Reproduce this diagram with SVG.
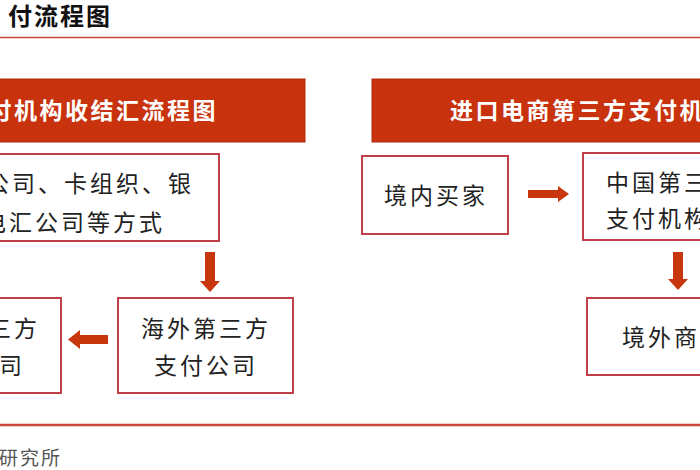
<svg xmlns="http://www.w3.org/2000/svg" width="700" height="470" viewBox="0 0 700 470">
<style>
.hdr{fill:#c8320c;stroke:#b02a10;stroke-width:1}
.hdrt{font-family:"Noto Sans CJK SC","Noto Sans",sans-serif;font-size:23px;font-weight:bold;fill:#fff;letter-spacing:2.5px}
.box{fill:#fff;stroke:#c0404a;stroke-width:2}
.t{font-family:"Noto Sans CJK SC","Noto Sans",sans-serif;font-size:23px;fill:#222;letter-spacing:3px}
.arr{fill:#c8360e}
.rule{stroke:#c9473a;fill:none}
</style>
<rect width="700" height="470" fill="#fff"/>
<text x="8" y="25" font-family="'Noto Sans CJK SC',sans-serif" font-size="24" font-weight="bold" fill="#111" letter-spacing="2">付流程图</text>
<line class="rule" x1="0" y1="37.5" x2="700" y2="37.5" stroke-width="1.5"/>
<line class="rule" x1="0" y1="425" x2="700" y2="425" stroke-width="2.5"/>
<text x="62" y="465" text-anchor="end" font-family="'Noto Sans CJK SC',sans-serif" font-size="19" fill="#555" letter-spacing="2">研究所</text>

<g id="hdr-left"><rect class="hdr" x="-5" y="79" width="310" height="63"/><text class="hdrt" x="218" y="119" text-anchor="end">付机构收结汇流程图</text></g>
<g id="hdr-right"><rect class="hdr" x="372" y="79" width="340" height="63"/><text class="hdrt" x="450" y="119">进口电商第三方支付机</text></g>

<g id="n-methods"><rect class="box" x="-5" y="154" width="224" height="87"/>
<text class="t" x="194" y="192" text-anchor="end">公司、卡组织、银</text>
<text class="t" x="165" y="231" text-anchor="end">电汇公司等方式</text></g>
<g id="n-domestic-pay"><rect class="box" x="-5" y="298" width="66" height="95"/>
<text class="t" x="40" y="337" text-anchor="end">三方</text>
<text class="t" x="25" y="374" text-anchor="end">司</text></g>
<g id="n-overseas-pay"><rect class="box" x="118" y="298" width="175" height="95"/>
<text class="t" x="206" y="337" text-anchor="middle">海外第三方</text>
<text class="t" x="206" y="374" text-anchor="middle">支付公司</text></g>
<g id="n-buyer"><rect class="box" x="362" y="156" width="146" height="78"/>
<text class="t" x="436" y="204" text-anchor="middle">境内买家</text></g>
<g id="n-cn-pay"><rect class="box" x="583" y="153" width="130" height="87"/>
<text class="t" x="606" y="191">中国第三</text>
<text class="t" x="606" y="227">支付机构</text></g>
<g id="n-merchant"><rect class="box" x="587" y="298" width="130" height="77"/>
<text class="t" x="622" y="346">境外商</text></g>

<g id="connectors">
<polygon class="arr" points="205,252 215,252 215,281 220,281 210,292 200,281 205,281"/>
<polygon class="arr" points="108,335 108,344 80,344 80,349 68,339.5 80,330 80,335"/>
<polygon class="arr" points="528,190 558,190 558,186 569,194 558,202 558,198 528,198"/>
<polygon class="arr" points="673,252 683,252 683,279 688,279 678,290 668,279 673,279"/>
</g>
</svg>
